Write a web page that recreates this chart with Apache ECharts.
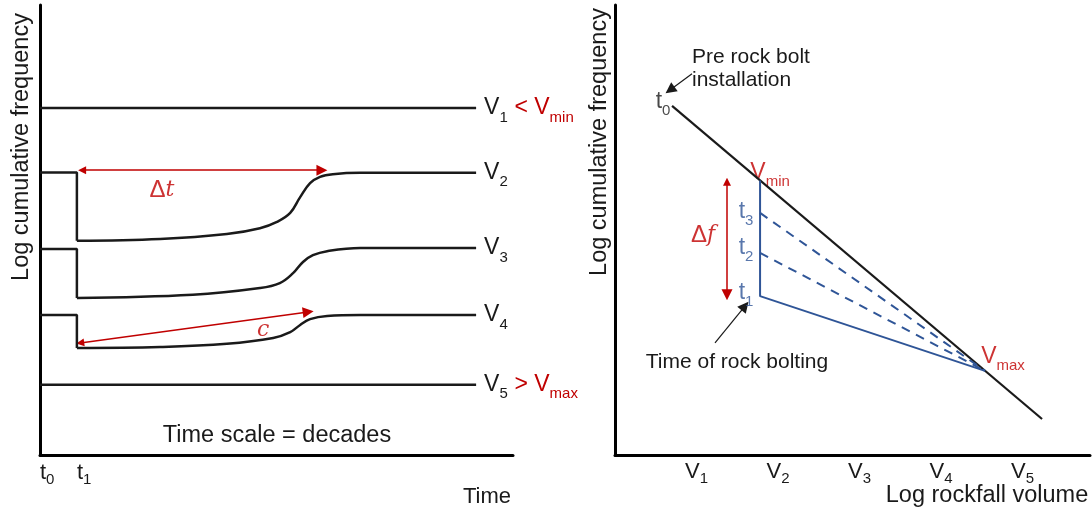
<!DOCTYPE html>
<html>
<head>
<meta charset="utf-8">
<script src="https://cdn.jsdelivr.net/npm/echarts@6.0.0/dist/echarts.min.js"></script>
<style>
  html, body { margin: 0; padding: 0; background: #fff; }
  #chart { width: 1092px; height: 513px; }
</style>
</head>
<body>
<div id="chart"></div>
<script>
// ---------- Left panel: cumulative frequency of each volume class through time ----------
const timeTickValues = [0, 7.8];
const timeTickNames = ['t0', 't1'];

const v1Level = [[0, 77.1], [92.2, 77.1]];
const v2Step = [[0, 62.8], [7.8, 62.8], [7.8, 47.6]];
const v2Recovery = [[7.8, 47.6], [25.4, 48.0], [39.5, 49.1], [46.5, 50.4], [50.1, 51.8], [52.9, 53.8],
  [55.0, 57.3], [57.1, 60.4], [59.2, 61.8], [61.9, 62.4], [67.7, 62.7], [92.2, 62.7]];
const v3Step = [[0, 45.8], [7.8, 45.8], [7.8, 34.9]];
const v3Recovery = [[7.8, 34.9], [32.3, 35.6], [46.5, 37.1], [50.7, 38.2], [53.5, 40.4], [55.6, 42.9],
  [57.7, 44.4], [60.7, 45.3], [67.7, 46.0], [92.2, 46.0]];
const v4Step = [[0, 31.1], [7.8, 31.1], [7.8, 23.8]];
const v4Recovery = [[7.8, 23.8], [25.4, 24.0], [39.5, 24.7], [49.3, 26.0], [52.9, 27.3], [55.0, 28.9],
  [57.1, 30.2], [60.7, 30.9], [67.7, 31.1], [92.2, 31.1]];
const v5Level = [[0, 15.6], [92.2, 15.6]];

const deltaTArrow = [[8.9, 63.3], [59.6, 63.3]];
const cArrow = [[8.5, 24.9], [56.7, 31.8]];

// ---------- Right panel: magnitude-frequency relation before and after bolting ----------
const volumeTickValues = [1, 2, 3, 4, 5];
const volumeTickNames = ['V1', 'V2', 'V3', 'V4', 'V5'];

const preBoltLine = [[0.70, 77.6], [5.24, 8.0]];
const vMinPoint = [1.78, 61.0];
const vMaxPoint = [4.54, 18.7];
const t1Start = 35.3;
const t2Start = 44.9;
const t3Start = 53.8;
const deltaFArrow = [[1.374, 60.7], [1.374, 35.6]];
const preBoltPointer = [[0.945, 84.7], [0.675, 81.1]];
const boltingPointer = [[1.227, 24.9], [1.595, 33.1]];

// ---------- styling ----------
const FONT = '"Liberation Sans", Arial, sans-serif';
const SERIF = '"DejaVu Serif", "Liberation Serif", serif';
const INK = '#1a1a1a';
const RED = '#c00000';
const BLUE = '#2f5597';
const MAIN = 23, SUB = 15;

function tok(color, size, align, lh) {
  const t = { fontFamily: FONT, fontSize: size, color: color, verticalAlign: align };
  if (lh) t.lineHeight = lh;
  return t;
}
const rich = {
  k: tok(INK, MAIN, 'middle', 34),
  ks: tok(INK, SUB, 'bottom'),
  r: tok(RED, MAIN, 'middle', 34),
  rs: tok(RED, SUB, 'bottom'),
  b: tok(BLUE, MAIN, 'middle', 32),
  bs: tok(BLUE, SUB, 'bottom'),
  rm: { fontFamily: FONT, fontSize: 24, color: RED, verticalAlign: 'middle', lineHeight: 34 },
  ri: { fontFamily: SERIF, fontStyle: 'italic', fontSize: 22, color: RED, verticalAlign: 'middle', lineHeight: 34 }
};
// tick labels sit a little tighter: subscript dropped less
const tickRich = {
  k: tok(INK, 22, 'middle', 29),
  ks: tok(INK, 15, 'bottom')
};

// "V1" -> '{k|V}{ks|1}'
function sub(name, main, small) {
  return '{' + main + '|' + name.charAt(0) + '}{' + small + '|' + name.slice(1) + '}';
}

function lineSeries(data, axis, extra) {
  return Object.assign({
    type: 'line', data: data, xAxisIndex: axis, yAxisIndex: axis,
    symbol: 'none', showSymbol: false, silent: true,
    lineStyle: { color: INK, width: 2.5 }
  }, extra || {});
}
function endLabel(text) {
  return { endLabel: { show: true, formatter: text, distance: 8, rich: rich } };
}
function arrowSeries(coords, axis, color, width, both) {
  return {
    type: 'lines', coordinateSystem: 'cartesian2d', xAxisIndex: axis, yAxisIndex: axis,
    silent: true, polyline: false,
    symbol: both ? ['triangle', 'triangle'] : ['none', 'triangle'], symbolSize: [8, 11],
    lineStyle: { color: color, width: width, opacity: 1, curveness: 0 },
    data: [{ coords: coords }]
  };
}
function textAt(point, axis, text, offset) {
  return {
    type: 'scatter', xAxisIndex: axis, yAxisIndex: axis, silent: true,
    symbolSize: 0, data: [point],
    label: { show: true, position: 'inside', offset: offset, formatter: text, rich: rich }
  };
}
function mid(seg) { return [(seg[0][0] + seg[1][0]) / 2, (seg[0][1] + seg[1][1]) / 2]; }

const axisLine = { show: true, onZero: false, lineStyle: { color: '#000', width: 3 } };
const curve = { smooth: 0.4 };

const option = {
  animation: false,
  backgroundColor: '#fff',
  grid: [
    { left: 40, top: 5, width: 473, height: 450 },
    { left: 615, top: 5, width: 475, height: 450 }
  ],
  xAxis: [
    {
      type: 'value', gridIndex: 0, min: 0, max: 100,
      axisLine: axisLine, axisTick: { show: false }, splitLine: { show: false },
      axisLabel: {
        customValues: timeTickValues, align: 'left', margin: 3, rich: tickRich,
        formatter: v => sub(timeTickNames[timeTickValues.indexOf(v)] || '', 'k', 'ks')
      }
    },
    {
      type: 'value', gridIndex: 1, min: 0, max: 475 / 81.5,
      axisLine: axisLine, axisTick: { show: false }, splitLine: { show: false },
      axisLabel: {
        customValues: volumeTickValues, margin: 2, rich: tickRich,
        formatter: v => sub(volumeTickNames[volumeTickValues.indexOf(v)] || '', 'k', 'ks')
      }
    }
  ],
  yAxis: [
    { type: 'value', gridIndex: 0, min: 0, max: 100, axisLine: axisLine, axisTick: { show: false }, axisLabel: { show: false }, splitLine: { show: false } },
    { type: 'value', gridIndex: 1, min: 0, max: 100, axisLine: axisLine, axisTick: { show: false }, axisLabel: { show: false }, splitLine: { show: false } }
  ],
  series: [
    // left panel
    lineSeries(v1Level, 0, endLabel(sub('V1', 'k', 'ks') + '  {r|< }' + sub('Vmin', 'r', 'rs'))),
    lineSeries(v2Step, 0),
    lineSeries(v2Recovery, 0, Object.assign({}, curve, endLabel(sub('V2', 'k', 'ks')))),
    lineSeries(v3Step, 0),
    lineSeries(v3Recovery, 0, Object.assign({}, curve, endLabel(sub('V3', 'k', 'ks')))),
    lineSeries(v4Step, 0),
    lineSeries(v4Recovery, 0, Object.assign({}, curve, endLabel(sub('V4', 'k', 'ks')))),
    lineSeries(v5Level, 0, endLabel(sub('V5', 'k', 'ks') + '  {r|> }' + sub('Vmax', 'r', 'rs'))),
    arrowSeries(deltaTArrow, 0, RED, 1.5, true),
    arrowSeries(cArrow, 0, RED, 1.5, true),
    textAt(mid(deltaTArrow), 0, '{rm|Δ}{ri|t}', [-40, 20]),
    textAt(mid(cArrow), 0, '{ri|c}', [69, 3]),

    // right panel
    lineSeries(preBoltLine, 1, { lineStyle: { color: INK, width: 2.2 } }),
    lineSeries([vMinPoint, [vMinPoint[0], t1Start], vMaxPoint], 1, { lineStyle: { color: BLUE, width: 2 } }),
    lineSeries([[vMinPoint[0], t2Start], vMaxPoint], 1, { lineStyle: { color: BLUE, width: 2, type: [9, 7] } }),
    lineSeries([[vMinPoint[0], t3Start], vMaxPoint], 1, { lineStyle: { color: BLUE, width: 2, type: [9, 7] } }),
    arrowSeries(deltaFArrow, 1, RED, 1.5, true),
    arrowSeries(preBoltPointer, 1, INK, 1.2, false),
    arrowSeries(boltingPointer, 1, INK, 1.2, false),
    textAt(preBoltLine[0], 1, sub('t0', 'k', 'ks'), [-9, -4]),
    textAt(vMinPoint, 1, sub('Vmin', 'r', 'rs'), [10, -8]),
    textAt(vMaxPoint, 1, sub('Vmax', 'r', 'rs'), [18, -14]),
    textAt([vMinPoint[0], t3Start], 1, sub('t3', 'b', 'bs'), [-14, -1]),
    textAt([vMinPoint[0], t2Start], 1, sub('t2', 'b', 'bs'), [-14, -5]),
    textAt([vMinPoint[0], t1Start], 1, sub('t1', 'b', 'bs'), [-14, -3]),
    textAt(mid(deltaFArrow), 1, '{rm|Δ}{ri|f}', [-24, -3])
  ],
  graphic: [
    { type: 'text', x: 22, y: 147, rotation: Math.PI / 2, silent: true,
      style: { text: 'Log cumulative frequency', font: '23.5px ' + FONT, fill: INK, align: 'center', verticalAlign: 'middle' } },
    { type: 'text', x: 600, y: 142, rotation: Math.PI / 2, silent: true,
      style: { text: 'Log cumulative frequency', font: '23.5px ' + FONT, fill: INK, align: 'center', verticalAlign: 'middle' } },
    { type: 'text', x: 277, y: 436, silent: true,
      style: { text: 'Time scale = decades', font: '23.5px ' + FONT, fill: INK, align: 'center', verticalAlign: 'middle' } },
    { type: 'text', x: 487, y: 497, silent: true,
      style: { text: 'Time', font: '22px ' + FONT, fill: INK, align: 'center', verticalAlign: 'middle' } },
    { type: 'text', x: 987, y: 496, silent: true,
      style: { text: 'Log rockfall volume', font: '23.5px ' + FONT, fill: INK, align: 'center', verticalAlign: 'middle' } },
    { type: 'text', x: 692, y: 46, silent: true,
      style: { text: 'Pre rock bolt\ninstallation', font: '21px ' + FONT, lineHeight: 23, fill: INK, align: 'left', verticalAlign: 'top' } },
    { type: 'text', x: 737, y: 362, silent: true,
      style: { text: 'Time of rock bolting', font: '21px ' + FONT, fill: INK, align: 'center', verticalAlign: 'middle' } }
  ]
};

const chart = echarts.init(document.getElementById('chart'), null, { renderer: 'canvas' });
chart.setOption(option);
</script>
</body>
</html>
